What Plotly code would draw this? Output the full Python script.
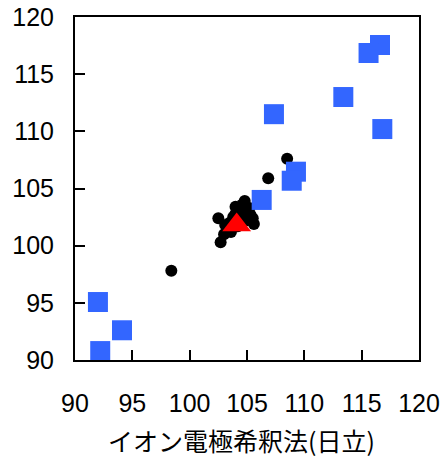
import plotly.graph_objects as go

# Black dots (individual samples)
dot_x = [98.4, 102.5, 102.7, 103.0, 103.3, 103.5, 103.8, 104.0, 104.3, 104.6, 104.8,
         104.5, 105.0, 105.3, 105.2, 104.9, 103.6, 104.2, 106.85, 108.5, 103.1, 105.5,
         104.0, 105.6]
dot_y = [97.8, 102.4, 100.3, 101.0, 101.5, 102.0, 102.5, 102.8, 103.2, 103.6, 103.9,
         102.6, 102.9, 102.7, 103.3, 102.2, 101.2, 101.7, 105.9, 107.6, 101.8, 102.4,
         103.4, 101.9]

# Blue squares
sq_x = [116.6, 115.6, 113.4, 107.35, 116.8, 109.27, 108.9, 106.28, 92.0, 94.1, 92.2]
sq_y = [117.55, 116.85, 113.0, 111.5, 110.2, 106.47, 105.68, 104.0, 95.07, 92.6, 90.78]

# Red triangle (mean)
tri_x = [104.1]
tri_y = [101.8]

ticks = [90, 95, 100, 105, 110, 115, 120]
x_title = "イオン電極希釈法(日立)"

fig = go.Figure()
fig.add_trace(go.Scatter(x=dot_x, y=dot_y, mode="markers",
                         marker=dict(symbol="circle", size=12, color="black"),
                         cliponaxis=False))
fig.add_trace(go.Scatter(x=sq_x, y=sq_y, mode="markers",
                         marker=dict(symbol="square", size=20, color="#3366FF"),
                         cliponaxis=False))
fig.add_trace(go.Scatter(x=tri_x, y=tri_y, mode="markers",
                         marker=dict(symbol="triangle-up", size=25, color="#FF0000"),
                         cliponaxis=False))

axis_common = dict(range=[90, 120], tickvals=ticks, ticktext=[str(t) for t in ticks],
                   showgrid=False, zeroline=False, showline=True, linecolor="black",
                   linewidth=2, mirror=True, ticks="inside", ticklen=10, tickwidth=2,
                   tickcolor="black", automargin=False,
                   tickfont=dict(family="Liberation Sans Narrow, Liberation Sans, Arial", size=25, color="black"))

fig.update_xaxes(**axis_common, ticklabelstandoff=20)
fig.update_yaxes(**axis_common, ticklabelstandoff=14)

fig.add_annotation(text=x_title, xref="paper", yref="paper", x=0.483, y=-0.233,
                   xanchor="center", yanchor="middle", showarrow=False,
                   font=dict(family="Noto Sans CJK JP", size=25, color="black"))

fig.update_layout(width=441, height=458, margin=dict(l=75, r=22, t=17, b=98),
                  plot_bgcolor="white", paper_bgcolor="white", showlegend=False)

fig.write_html("out.html")
